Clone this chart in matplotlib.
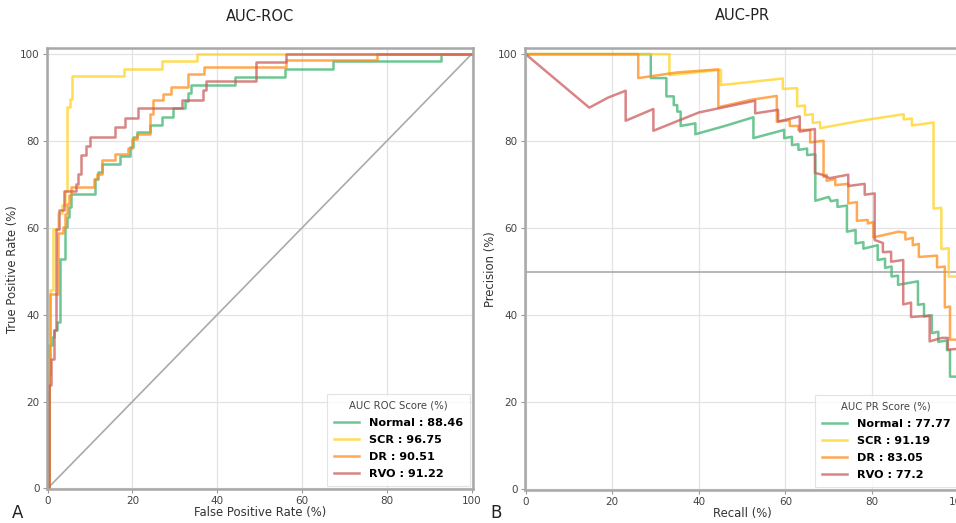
import matplotlib
matplotlib.use("Agg")
import matplotlib.pyplot as plt

# ROC curves (percent), staircase: value jumps to tpr[i] at fpr[i]
roc_normal_fpr = [0, 0.3, 1.0, 1.6, 2.2, 2.9, 4.1, 4.6, 5.0, 5.6, 11.2, 11.8, 12.7, 17.1,
                  19.4, 20.2, 21.0, 24.1, 27.0, 29.5, 32.4, 33.2, 33.7, 44.2, 56.0, 67.4, 92.7, 100]
roc_normal_tpr = [0, 33, 34.9, 36.4, 38.3, 52.8, 60.2, 62.5, 64.8, 67.7, 71.3, 72.8, 74.8, 76.5,
                  78.6, 80.9, 82.0, 83.8, 85.5, 87.5, 89.2, 91.1, 93.0, 94.8, 96.7, 98.4, 100, 100]

roc_scr_fpr = [0, 0.3, 0.6, 1.3, 2.4, 3.3, 4.0, 4.6, 5.2, 5.8, 17.9, 26.9, 35.3, 100]
roc_scr_tpr = [0, 30, 45.6, 59.8, 63.5, 65.2, 68.6, 87.9, 89.6, 95.0, 96.7, 98.5, 100, 100]

roc_dr_fpr = [0, 0.2, 0.6, 2.5, 3.5, 4.1, 4.5, 5.0, 5.6, 11.0, 11.6, 12.7, 15.9, 19.0,
              20.0, 21.0, 24.1, 24.9, 27.3, 29.2, 33.2, 36.9, 56.2, 77.8, 100]
roc_dr_tpr = [0, 26.2, 44.8, 58.8, 60.2, 63.2, 65.5, 67.5, 69.4, 71.3, 72.5, 75.7, 77.1, 78.5,
              80.5, 81.7, 86.3, 89.4, 90.9, 92.5, 95.5, 97.1, 98.6, 100, 100]

roc_rvo_fpr = [0, 0.4, 0.8, 1.4, 2.0, 2.6, 3.9, 6.7, 7.2, 7.9, 9.0, 10.0, 15.9, 18.2,
               21.2, 31.6, 36.6, 37.4, 49.1, 56.2, 100]
roc_rvo_tpr = [0, 23.7, 29.8, 36.4, 59.8, 64.0, 68.4, 70.2, 72.5, 76.7, 78.8, 80.9, 83.2, 85.4,
               87.5, 89.5, 91.7, 93.8, 98.1, 100, 100]

# PR curves (percent), vertices
pr_normal_rec = [0, 28.9, 28.9, 32.5, 32.5, 34.2, 34.2, 35.0, 35.0, 35.8, 35.8, 39.2, 39.2, 46.0,
                 52.6, 52.6, 59.7, 59.7, 61.5, 61.5, 63.0, 63.0, 65.0, 65.0, 66.9, 66.9, 70.0,
                 70.5, 72.0, 72.0, 74.2, 74.2, 76.2, 76.2, 78.0, 78.0, 81.3, 81.3, 83.0, 83.0,
                 84.5, 84.5, 86.0, 86.0, 90.6, 90.6, 92.0, 92.0, 93.8, 93.8, 95.3, 95.3, 97.3,
                 97.3, 98.0, 98.0, 100]
pr_normal_prec = [100, 100, 94.5, 94.5, 90.3, 90.3, 88.3, 88.3, 86.8, 86.8, 83.5, 84.1, 81.6, 83.5,
                  85.5, 80.7, 82.6, 80.7, 81.0, 79.1, 79.3, 78.0, 78.3, 76.8, 77.0, 66.3, 67.2,
                  66.2, 66.5, 64.9, 65.2, 59.2, 59.6, 56.5, 56.8, 55.3, 56.1, 52.7, 53.0, 50.9,
                  51.2, 48.9, 49.1, 47.0, 47.8, 42.4, 42.6, 39.7, 40.0, 35.9, 36.2, 33.9, 34.2,
                  32.0, 32.0, 25.9, 25.9]

pr_scr_rec = [0, 33.2, 33.2, 45.1, 45.1, 59.4, 59.4, 62.7, 62.7, 64.5, 64.5, 66.3, 66.3, 68.0,
              68.0, 78.0, 87.3, 87.3, 89.2, 89.2, 94.2, 94.2, 96.0, 96.0, 97.7, 97.7, 100]
pr_scr_prec = [100, 100, 95.2, 96.4, 92.9, 94.4, 92.0, 92.2, 88.0, 88.2, 86.0, 86.2, 84.2, 84.4,
               83.0, 84.8, 86.2, 85.0, 85.2, 83.6, 84.3, 64.5, 64.7, 55.2, 55.4, 48.9, 48.9]

pr_dr_rec = [0, 26.0, 26.0, 35.0, 44.5, 44.5, 52.0, 58.0, 58.0, 61.0, 61.0, 63.0, 63.0, 65.7,
             65.7, 68.8, 68.8, 69.5, 69.5, 71.5, 71.5, 74.5, 74.5, 76.5, 76.5, 79.0, 79.0, 80.3,
             80.3, 86.1, 87.7, 87.7, 89.4, 89.4, 90.8, 90.8, 95.0, 95.0, 96.8, 96.8, 98.0, 98.0, 100]
pr_dr_prec = [100, 100, 94.5, 95.8, 96.5, 87.8, 89.5, 90.4, 84.5, 84.8, 83.5, 83.5, 82.6, 82.6,
              79.7, 80.1, 71.8, 72.3, 70.9, 71.3, 69.9, 70.2, 65.7, 66.0, 61.7, 61.9, 61.1, 61.4,
              57.9, 59.2, 59.0, 57.4, 57.8, 56.1, 56.4, 53.4, 53.7, 51.0, 51.2, 41.8, 42.0, 34.4, 34.4]

pr_rvo_rec = [0, 14.7, 19.0, 23.1, 23.1, 29.5, 29.5, 40.0, 53.0, 53.0, 58.3, 58.3, 63.3, 63.3,
              66.8, 66.8, 68.5, 70.2, 74.5, 74.5, 78.3, 78.3, 80.6, 80.6, 82.5, 82.5, 84.4, 84.4,
              87.2, 87.2, 89.0, 89.0, 93.3, 93.3, 96.1, 97.5, 97.5, 100]
pr_rvo_prec = [100, 87.7, 90.0, 91.6, 84.7, 87.4, 82.4, 86.6, 89.3, 86.4, 87.2, 84.5, 85.7, 82.2,
               82.8, 72.7, 72.3, 71.5, 72.3, 69.7, 70.2, 67.7, 68.0, 57.3, 56.6, 54.5, 54.6, 52.3,
               52.7, 42.5, 42.9, 39.6, 39.9, 34.0, 34.8, 34.8, 32.1, 32.3]

labels = ["Normal", "SCR", "DR", "RVO"]
auc_roc = ["88.46", "96.75", "90.51", "91.22"]
auc_pr = ["77.77", "91.19", "83.05", "77.2"]
colors = ["#3cb371", "#ffd21f", "#ff8c1a", "#cd5c5c"]


def style_axes(ax, xlabel, ylabel, title):
    ax.set_xlim(-0.25, 100.4)
    ax.set_ylim(-0.15, 101.35)
    ax.set_xticks(range(0, 101, 20))
    ax.set_yticks(range(0, 101, 20))
    ax.grid(True, color="#e3e3e3", linewidth=0.9)
    ax.set_axisbelow(True)
    for sp in ax.spines.values():
        sp.set_color("#a8a8a8")
        sp.set_linewidth(1.8)
    ax.tick_params(labelsize=7.5, colors="#444444", length=3, width=0.8, pad=2)
    ax.tick_params(axis="both", color="#999999")
    ax.set_xlabel(xlabel, fontsize=8.4, color="#333333", labelpad=0)
    ax.set_ylabel(ylabel, fontsize=8.4, color="#333333", labelpad=1)
    ax.set_title(title, fontsize=10.5, color="#222222", pad=20)


def add_legend(ax, title):
    leg = ax.legend(title=title, loc="lower right", title_fontsize=7.3,
                    prop={"weight": "bold", "size": 8.1}, frameon=True, fancybox=False,
                    borderaxespad=0.3, handlelength=2.2, handletextpad=0.9,
                    labelspacing=0.62, borderpad=0.6)
    leg.get_frame().set_edgecolor("#dddddd")
    leg.get_frame().set_linewidth(0.8)
    leg.get_title().set_color("#444444")
    return leg


fig = plt.figure(figsize=(9.56, 5.23), dpi=100)
ax1 = fig.add_axes([0.0488, 0.065, 0.4462, 0.8426])
ax2 = fig.add_axes([0.5487, 0.0631, 0.4559, 0.8446])

roc_data = [(roc_normal_fpr, roc_normal_tpr), (roc_scr_fpr, roc_scr_tpr),
            (roc_dr_fpr, roc_dr_tpr), (roc_rvo_fpr, roc_rvo_tpr)]
pr_data = [(pr_normal_rec, pr_normal_prec), (pr_scr_rec, pr_scr_prec),
           (pr_dr_rec, pr_dr_prec), (pr_rvo_rec, pr_rvo_prec)]

ax1.plot([0, 100], [0, 100], color="#aaaaaa", linewidth=1.2, zorder=1)
for (x, y), name, score, c in zip(roc_data, labels, auc_roc, colors):
    ax1.plot(x, y, drawstyle="steps-post", color=c, linewidth=1.8, alpha=0.75,
             label=f"{name} : {score}")
style_axes(ax1, "False Positive Rate (%)", "True Positive Rate (%)", "AUC-ROC")
add_legend(ax1, "AUC ROC Score (%)")

ax2.axhline(50, color="#aaaaaa", linewidth=1.2, zorder=1)
for (x, y), name, score, c in zip(pr_data, labels, auc_pr, colors):
    ax2.plot(x, y, color=c, linewidth=1.8, alpha=0.75, label=f"{name} : {score}")
style_axes(ax2, "Recall (%)", "Precision (%)", "AUC-PR")
add_legend(ax2, "AUC PR Score (%)")

fig.text(12 / 956, 1 / 523, "A", fontsize=12, color="#222222", va="bottom", ha="left")
fig.text(490 / 956, 1 / 523, "B", fontsize=12, color="#222222", va="bottom", ha="left")

fig.savefig("out.png", dpi=100)
